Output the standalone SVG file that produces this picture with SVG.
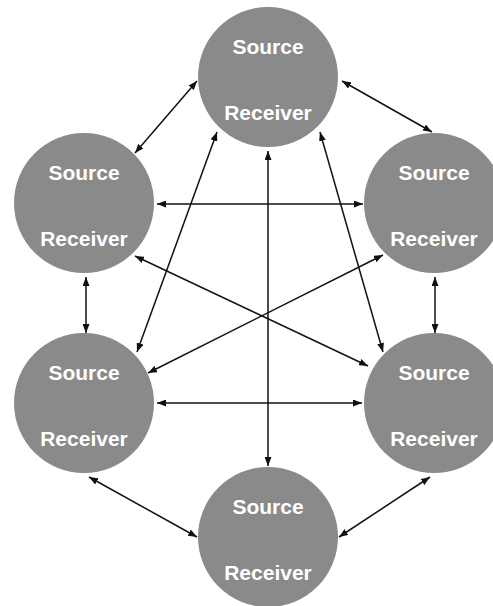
<svg xmlns="http://www.w3.org/2000/svg" width="493" height="606" viewBox="0 0 493 606">
<defs>
<marker id="ah" viewBox="0 0 9 7" refX="9" refY="3.5" markerWidth="9" markerHeight="7" markerUnits="userSpaceOnUse" orient="auto-start-reverse">
<path d="M0,0 L9,3.5 L0,7 z" fill="#111"/>
</marker>
<style>
.n{fill:#8a8a8a}
.t{fill:#fff;font-family:"Liberation Sans",Arial,sans-serif;font-weight:bold;font-size:21px;text-anchor:middle}
.c line{stroke:#111;stroke-width:1.5;marker-start:url(#ah);marker-end:url(#ah)}
</style>
</defs>
<rect width="493" height="606" fill="#fff"/>
<g id="nTop"><circle class="n" cx="268" cy="77" r="70"/><text class="t" x="268" y="54">Source</text><text class="t" x="268" y="120">Receiver</text></g>
<g id="nUL"><circle class="n" cx="84" cy="203" r="70"/><text class="t" x="84" y="180">Source</text><text class="t" x="84" y="246">Receiver</text></g>
<g id="nUR"><circle class="n" cx="434" cy="203" r="70"/><text class="t" x="434" y="180">Source</text><text class="t" x="434" y="246">Receiver</text></g>
<g id="nLL"><circle class="n" cx="84" cy="403" r="70"/><text class="t" x="84" y="380">Source</text><text class="t" x="84" y="446">Receiver</text></g>
<g id="nLR"><circle class="n" cx="434" cy="403" r="70"/><text class="t" x="434" y="380">Source</text><text class="t" x="434" y="446">Receiver</text></g>
<g id="nB"><circle class="n" cx="268" cy="537" r="70"/><text class="t" x="268" y="514">Source</text><text class="t" x="268" y="580">Receiver</text></g>
<g id="connectors" class="c">
<line x1="197" y1="81" x2="135" y2="153"/>
<line x1="342" y1="81" x2="432" y2="132"/>
<line x1="157" y1="204" x2="363" y2="204"/>
<line x1="135" y1="256" x2="368" y2="366"/>
<line x1="383" y1="255" x2="148" y2="373"/>
<line x1="217" y1="132" x2="137" y2="352"/>
<line x1="320" y1="132" x2="383" y2="352"/>
<line x1="268" y1="151" x2="268" y2="466"/>
<line x1="86" y1="277" x2="86" y2="333"/>
<line x1="435" y1="277" x2="435" y2="333"/>
<line x1="157" y1="403" x2="362" y2="403"/>
<line x1="89" y1="477" x2="197" y2="537"/>
<line x1="430" y1="477" x2="339" y2="537"/>
</g>
</svg>
